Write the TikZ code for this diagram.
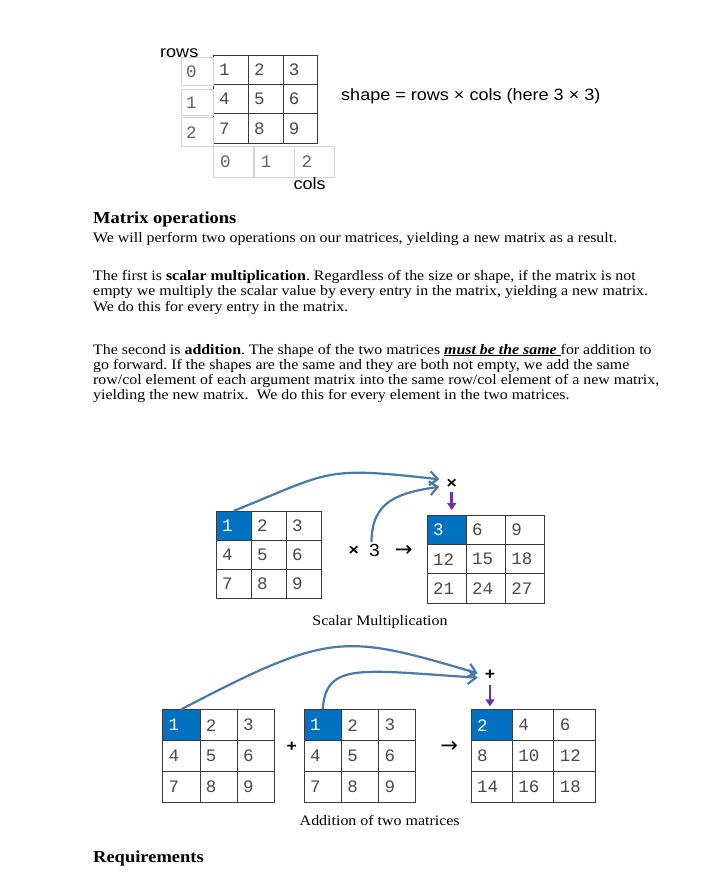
\documentclass[tikz,border=0pt]{standalone}
\usepackage{fontspec}
\setmainfont{Liberation Serif}[FakeStretch=1.1]
\newfontfamily\sansf{Liberation Sans}[FakeStretch=1.1]
\newfontfamily\monof{Liberation Mono}
\newfontfamily\symf{DejaVu Sans}
\usetikzlibrary{positioning,arrows.meta}
\definecolor{cellblue}{HTML}{0070C0}
\definecolor{arrblue}{HTML}{4A79A8}
\definecolor{purp}{HTML}{7030A0}
\definecolor{grid}{HTML}{3A3A3A}
\definecolor{idxline}{HTML}{D4D4D4}
\definecolor{digit}{HTML}{4A4A4A}
\definecolor{digitb}{HTML}{606060}
\frenchspacing
\newcommand\mtx[7]{%
\foreach \v [count=\k from 0] in {#7} {
  \pgfmathtruncatemacro\rw{\k/3}
  \pgfmathtruncatemacro\cl{\k-3*\rw}
  \pgfmathsetmacro\tw{#4-12}
  \ifnum\k=#6 \def\fc{cellblue}\def\tc{white}\else\def\fc{white}\def\tc{digit}\fi
  \node[cell, fill=\fc, text=\tc, text width=\tw pt, minimum height=#5pt] (#1-\rw-\cl) at ({#2+\cl*#4},{-#3-\rw*#5}) {\v};
}}
\begin{document}
\begin{tikzpicture}[x=1pt, y=1pt,
  body/.style={anchor=base west, inner sep=0pt, font=\fontsize{14.45}{15}\selectfont},
  head/.style={anchor=base west, inner sep=0pt, font=\fontsize{16.8}{18}\selectfont\bfseries},
  capt/.style={anchor=base, inner sep=0pt, font=\fontsize{14.5}{16}\selectfont},
  lbl/.style={anchor=base west, inner sep=0pt, font=\sansf\fontsize{16.4}{18}\selectfont},
  op/.style={inner sep=2pt, font=\sansf\fontsize{17.5}{18}\selectfont},
  opb/.style={inner sep=2pt, font=\sansf\bfseries\fontsize{16}{18}\selectfont},
  sym/.style={inner sep=1pt, font=\symf\fontsize{21}{22}\selectfont},
  cell/.style={draw=grid, line width=0.8pt, anchor=north west, inner xsep=6pt, inner ysep=0pt, align=left, font=\monof\fontsize{17.5}{18}\selectfont},
  idx/.style={draw=idxline, line width=0.8pt, anchor=north west, inner xsep=5pt, inner ysep=0pt, align=left, text=digitb, font=\monof\fontsize{17.5}{18}\selectfont},
  curve/.style={draw=arrblue, line width=2.2pt, -{Straight Barb[length=8pt,width=14pt]}},
  down/.style={draw=purp, line width=2.8pt, -{Triangle[length=7pt,width=9pt]}}]
\fill[white] (0,0) rectangle (705,-885);
\path[use as bounding box] (0,0) rectangle (705,-885);

\mtx{m}{212.7}{55}{34.9}{29.2}{-1}{1,2,3,4,5,6,7,8,9}
\node[idx, text width=22pt, minimum height=27.7pt] (r0) at (180.7,-57.3) {0};
\node[idx, text width=22pt, minimum height=26.7pt, below=3pt of r0] (r1) {1};
\node[idx, text width=22pt, minimum height=29pt, below=1pt of r1] (r2) {2};
\node[idx, text width=26pt, inner xsep=7pt, minimum height=30.7pt] (c0) at (212.7,-146) {0};
\node[idx, text width=26pt, inner xsep=7pt, minimum height=30.7pt, right=0pt of c0] (c1) {1};
\node[idx, text width=26pt, inner xsep=7pt, minimum height=30.7pt, right=0pt of c1] (c2) {2};
\node[lbl] (rows) at (160,-57.8) {rows};
\node[lbl] (cols) at (293.3,-190) {cols};
\node[lbl] (shape) at (341,-101) {shape = rows × cols (here 3 × 3)};

\node[head] (ops) at (93,-223.3) {Matrix operations};
\node[body] (l1) at (93,-242) {We will perform two operations on our matrices, yielding a new matrix as a result.};
\node[body] (l2) at (93,-280) {The first is \textbf{scalar multiplication}. Regardless of the size or shape, if the matrix is not};
\node[body] (l3) at (93,-295.5) {empty we multiply the scalar value by every entry in the matrix, yielding a new matrix.};
\node[body] (l4) at (93,-311) {We do this for every entry in the matrix.};
\node[body] (l5) at (93,-354) {The second is \textbf{addition}. The shape of the two matrices \underline{\textbf{\textit{must be the same}}\ }for addition to};
\node[body] (l6) at (93,-369.3) {go forward. If the shapes are the same and they are both not empty, we add the same};
\node[body] (l7) at (93,-384.5) {row/col element of each argument matrix into the same row/col element of a new matrix,};
\node[body] (l8) at (93,-399.6) {yielding the new matrix.\ \ We do this for every element in the two matrices.};

\mtx{s}{215.7}{511}{35}{29.1}{0}{1,2,3,4,5,6,7,8,9}
\mtx{sr}{426.7}{515}{39.1}{29.2}{0}{3,6,9,12,15,18,21,24,27}
\node[opb] (mulx) at (353.7,-550.5) {×};
\node[op] (three) at (374.5,-550.5) {3};
\node[sym] (to1) at (403.7,-551.2) {→};
\node[opb] (times) at (451.7,-484) {×};
\draw[curve] (s-0-0.north) .. controls (333,-470.7) and (323,-466.4) .. ([xshift=-5pt,yshift=4.7pt]times.west);
\draw[curve] ([xshift=-3pt]three.north) .. controls (371.5,-500) and (400,-492.7) .. ([xshift=-5pt,yshift=-2.7pt]times.west);
\draw[down, shorten <=1pt, shorten >=5pt] (times.south) -- (times.south |- sr-0-0.north);
\node[capt] (cap1) at (380,-625) {Scalar Multiplication};

\mtx{p}{162.3}{709.3}{37.23}{30.9}{0}{1,2,3,4,5,6,7,8,9}
\mtx{q}{303.7}{709.3}{37.2}{30.9}{0}{1,2,3,4,5,6,7,8,9}
\mtx{pq}{470.7}{709.3}{41.33}{30.9}{0}{2,4,6,8,10,12,14,16,18}
\node[opb] (plus1) at (291.7,-746.7) {+};
\node[sym] (to2) at (449.2,-746.5) {→};
\node[opb] (plus) at (490,-675.3) {+};
\draw[curve] (p-0-0.north) .. controls (331,-631) and (344,-634) .. ([xshift=-5pt,yshift=2pt]plus.west);
\draw[curve] (q-0-0.north) .. controls (326,-662) and (360,-670) .. ([xshift=-5pt,yshift=-2.4pt]plus.west);
\draw[down, shorten <=3pt, shorten >=3pt] (plus.south) -- (plus.south |- pq-0-0.north);
\node[capt] (cap2) at (379.7,-825) {Addition of two matrices};

\node[head] (req) at (93,-862) {Requirements};
\end{tikzpicture}
\end{document}
